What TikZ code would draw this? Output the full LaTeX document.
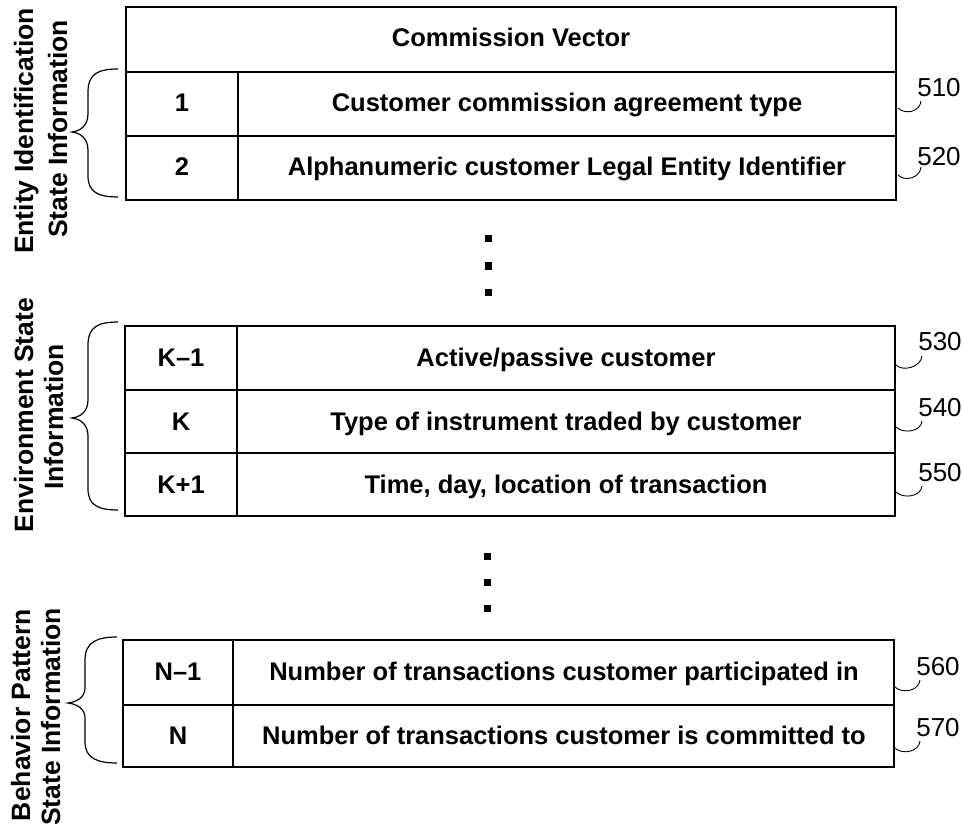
\documentclass[tikz,border=0pt]{standalone}
\usepackage{fontspec}
\setmainfont{Liberation Sans}
\begin{document}
\begin{tikzpicture}[x=1pt,y=-1pt,
  tbl/.style={line width=1.6pt},
  celltext/.style={font=\fontsize{25.5}{30}\selectfont\bfseries, inner sep=0pt, anchor=base, yshift=-8pt},
  sidelabel/.style={font=\fontsize{26.5}{30}\selectfont\bfseries, rotate=90, anchor=base, inner sep=0pt},
  refnum/.style={font=\fontsize{26}{30}\selectfont, inner sep=0pt},
  leader/.style={line width=0.9pt},
  bracestyle/.style={line width=1.2pt},
  dotsq/.style={fill=black, draw=none, minimum size=7pt, inner sep=0pt, rectangle}]
\useasboundingbox (0,0) rectangle (963,826);

% ---------- Table 1 ----------
\draw[tbl] (126,7) rectangle (896,200);
\draw[tbl] (126,72) -- (896,72);
\draw[tbl] (126,136) -- (896,136);
\draw[tbl] (238,72) -- (238,200);
\node[celltext] (hdr) at (511,39) {Commission Vector};
\node[celltext] (k1) at (182,104) {1};
\node[celltext] (t1) at (567,104) {Customer commission agreement type};
\node[celltext] (k2) at (182,168) {2};
\node[celltext] (t2) at (567,168) {Alphanumeric customer Legal Entity Identifier};

% ---------- Table 2 ----------
\draw[tbl] (125,326) rectangle (895,516);
\draw[tbl] (125,390) -- (895,390);
\draw[tbl] (125,453) -- (895,453);
\draw[tbl] (237,326) -- (237,516);
\node[celltext] (k3) at (181,358) {K--1};
\node[celltext] (t3) at (566,358) {Active/passive customer};
\node[celltext] (k4) at (181,422) {K};
\node[celltext] (t4) at (566,422) {Type of instrument traded by customer};
\node[celltext] (k5) at (181,485) {K+1};
\node[celltext] (t5) at (566,485) {Time, day, location of transaction};

% ---------- Table 3 ----------
\draw[tbl] (123,640) rectangle (894,767);
\draw[tbl] (123,705) -- (894,705);
\draw[tbl] (233,640) -- (233,767);
\node[celltext] (k6) at (178,672) {N--1};
\node[celltext] (t6) at (564,672) {Number of transactions customer participated in};
\node[celltext] (k7) at (178,736) {N};
\node[celltext] (t7) at (564,736) {Number of transactions customer is committed to};

% ---------- Ellipsis dots ----------
\node[dotsq] (d1) at (488,239) {};
\node[dotsq] (d2) at (488,266) {};
\node[dotsq] (d3) at (488,292) {};
\node[dotsq] (d4) at (487,556) {};
\node[dotsq] (d5) at (487,582) {};
\node[dotsq] (d6) at (487,608) {};

% ---------- Braces ----------
\draw[bracestyle] (118,69) .. controls (98,69) and (88,74) .. (88,92) -- (88,114)
  .. controls (88,126) and (80,131) .. (72,132)
  .. controls (80,133) and (88,138) .. (88,150) -- (88,176)
  .. controls (88,192) and (98,197) .. (118,197);
\draw[bracestyle] (118,322) .. controls (98,322) and (88,327) .. (88,345) -- (88,400)
  .. controls (88,412) and (80,417) .. (72,418)
  .. controls (80,419) and (88,424) .. (88,436) -- (88,489)
  .. controls (88,505) and (98,510) .. (118,510);
\draw[bracestyle] (117,637) .. controls (97,637) and (85,642) .. (85,660) -- (85,688)
  .. controls (85,698) and (76,702) .. (68,703)
  .. controls (76,704) and (85,708) .. (85,718) -- (85,742)
  .. controls (85,758) and (97,763) .. (117,763);

% ---------- Side labels ----------
\node[sidelabel] (s1a) at (33,131) {Entity Identification};
\node[sidelabel] (s1b) at (67,129) {State Information};
\node[sidelabel] (s2a) at (33,415) {Environment State};
\node[sidelabel] (s2b) at (63,417) {Information};
\node[sidelabel] (s3a) at (30,715) {Behavior Pattern};
\node[sidelabel] (s3b) at (60,717) {State Information};

% ---------- Reference numerals ----------
\node[refnum] (n510) at (939,88) {510};
\node[refnum] (n520) at (939,157) {520};
\node[refnum] (n530) at (940,342) {530};
\node[refnum] (n540) at (940,408) {540};
\node[refnum] (n550) at (940,473) {550};
\node[refnum] (n560) at (938,667) {560};
\node[refnum] (n570) at (938,728) {570};

\coordinate (a510) at (898,108); \coordinate (b510) at (921,101);
\coordinate (a520) at (898,175); \coordinate (b520) at (921,167);
\coordinate (a530) at (896,365); \coordinate (b530) at (922,356);
\coordinate (a540) at (896,427); \coordinate (b540) at (922,421);
\coordinate (a550) at (896,492); \coordinate (b550) at (922,486);
\coordinate (a560) at (895,687); \coordinate (b560) at (920,680);
\coordinate (a570) at (895,748); \coordinate (b570) at (920,741);
\foreach \n in {510,520,530,540,550,560,570}{
  \draw[leader] (a\n) .. controls +(7,7) and +(-1,11) .. (b\n);
}
\end{tikzpicture}
\end{document}
